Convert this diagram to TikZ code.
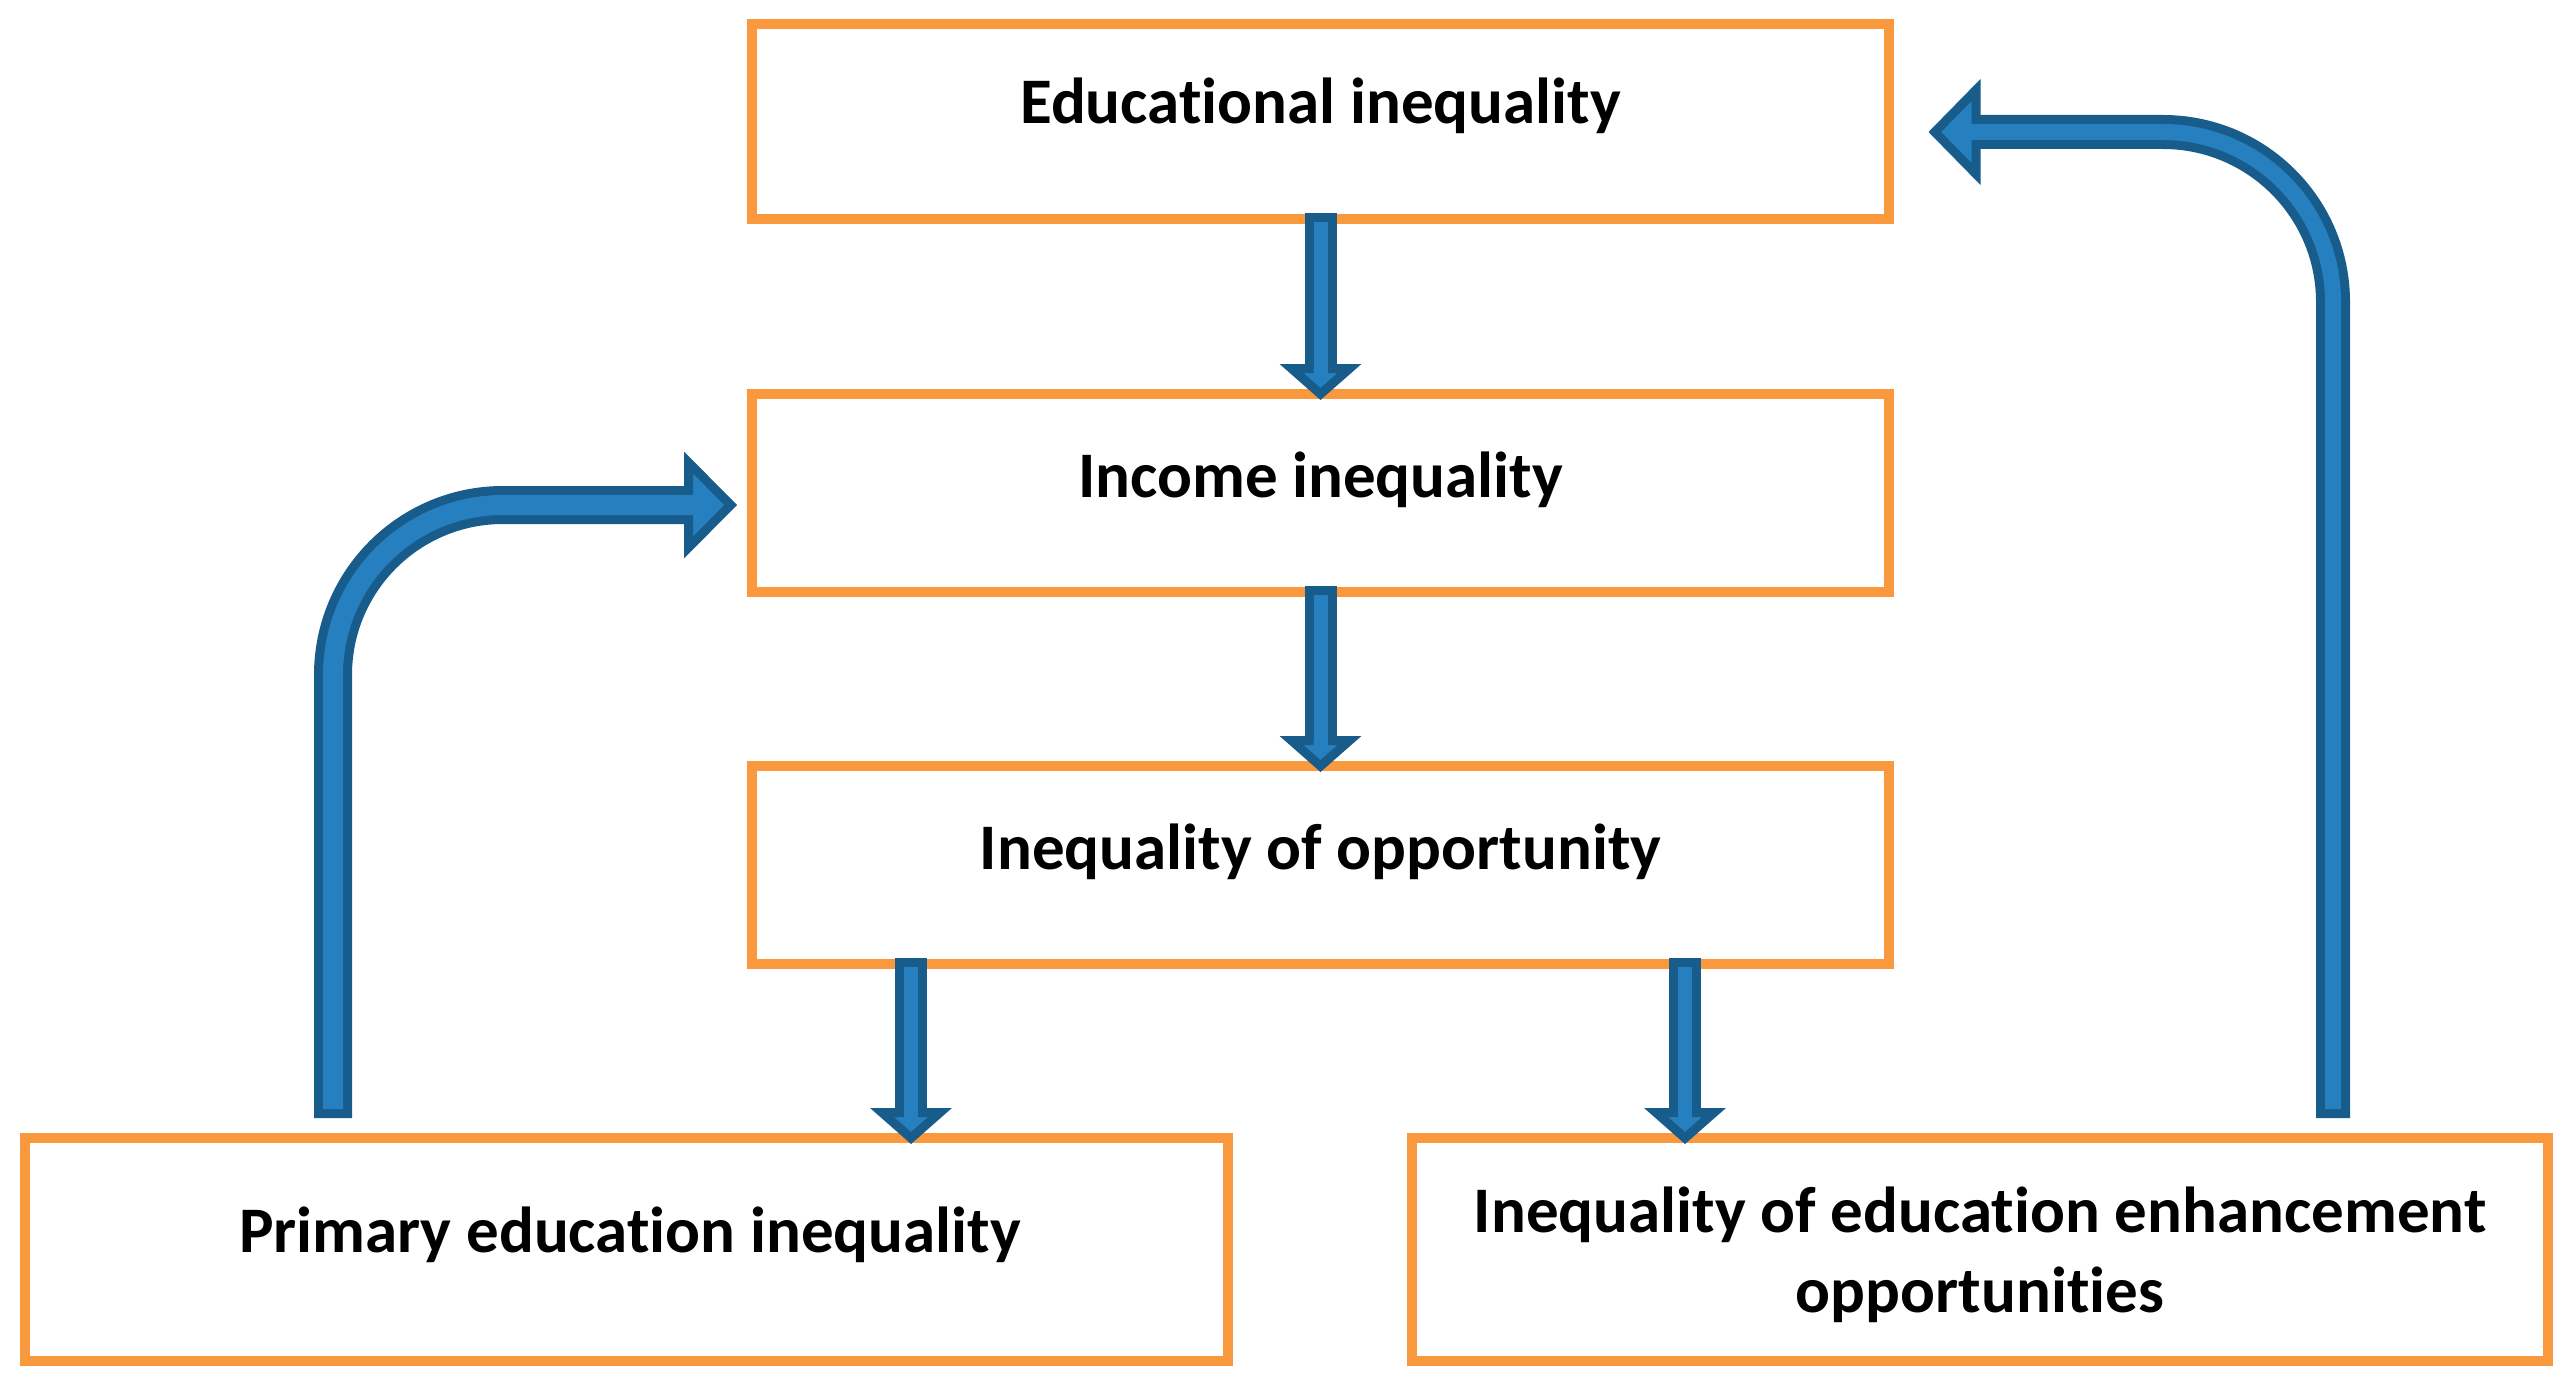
\documentclass[tikz,border=0pt]{standalone}
\usepackage{fontspec}
\setmainfont{Carlito}[Ligatures=NoCommon]
\usetikzlibrary{calc}
\definecolor{boxorange}{RGB}{250,152,62}
\definecolor{arrlight}{RGB}{38,128,192}
\definecolor{arrdark}{RGB}{24,92,140}
\newcommand\nolig{\kern0pt\relax}
\tikzset{
  box/.style={draw=boxorange, line width=9.5pt, fill=white, inner sep=0pt, outer sep=0pt},
  lbl/.style={font=\fontsize{65pt}{75pt}\selectfont\bfseries, anchor=base, inner sep=0pt, text=black},
  headsty/.style={fill=arrlight, draw=arrdark, line width=9pt, line join=miter, miter limit=10},
}
\newcommand\fatdown[2]{%
  \path ($(#1)+(0,-6)$) coordinate (fa) (#2) coordinate (fc) ($(#2)+(0,-25.5)$) coordinate (fb);
  \draw[arrdark, line width=32pt] (fa) -- (fb);
  \filldraw[headsty] ($(fb)+(-7,0)$) -- ($(fb)+(-29,0)$) -- (fc) -- ($(fb)+(29,0)$) -- ($(fb)+(7,0)$);
  \draw[arrlight, line width=14pt] ($(fa)+(0,9)$) -- ($(fb)+(0,3)$);
}
\begin{document}
\begin{tikzpicture}[x=1pt,y=-1pt]
\useasboundingbox[fill=white] (0,0) rectangle (2574,1391);
% boxes
\node[box, minimum width=1137pt, minimum height=195pt] (b1) at (1320.5,121.5) {};
\node[box, minimum width=1137pt, minimum height=198pt] (b2) at (1320.5,493) {};
\node[box, minimum width=1137pt, minimum height=198pt] (b3) at (1320.5,865) {};
\node[box, minimum width=1203pt, minimum height=223pt] (b4) at (626.5,1249.5) {};
\node[box, minimum width=1136pt, minimum height=223pt] (b5) at (1980,1249.5) {};
% labels
\node[lbl] (t1) at (1320.5,124) {Educat\nolig ional inequality};
\node[lbl] (t2) at (1320.5,497) {Income inequality};
\node[lbl] (t3) at (1320.5,869) {Inequality of opportunity};
\node[lbl] (t4) at (630,1252) {Primary educat\nolig ion inequality};
\node[lbl] (t5a) at (1980,1232) {Inequality of educat\nolig ion enhancement};
\node[lbl] (t5b) at (1980,1312) {opportunit\nolig ies};
% straight arrows
\coordinate (x3l) at (911,0);
\coordinate (x3r) at (1685,0);
\fatdown{b1.south}{b2.north}
\fatdown{b2.south}{b3.north}
\fatdown{b3.south -| x3l}{b4.north -| x3l}
\fatdown{b3.south -| x3r}{b5.north -| x3r}
% left curved arrow
\coordinate (x4) at (333,0);
\path ($(b4.north -| x4)+(0,-20)$) coordinate (la)
      ($(b2.west)+(-21.3,12)$) coordinate (lc)
      ($(lc)+(-42.2,0)$) coordinate (lb);
\draw[arrdark, line width=38pt, rounded corners=170pt] (la) |- (lb);
\filldraw[headsty] ($(lb)+(0,-10)$) -- ($(lb)+(0,-42.5)$) -- (lc) -- ($(lb)+(0,42.5)$) -- ($(lb)+(0,10)$);
\draw[arrlight, line width=20pt, rounded corners=170pt] ($(la)+(0,-9)$) |- ($(lb)+(3.5,0)$);
% right curved arrow
\coordinate (x5) at (2333,0);
\path ($(b5.north -| x5)+(0,-20)$) coordinate (ra)
      ($(b1.east)+(45.8,10.5)$) coordinate (rc)
      ($(rc)+(41.2,0)$) coordinate (rb);
\draw[arrdark, line width=34pt, rounded corners=170pt] (ra) |- (rb);
\filldraw[headsty] ($(rb)+(0,-8)$) -- ($(rb)+(0,-42)$) -- (rc) -- ($(rb)+(0,42)$) -- ($(rb)+(0,8)$);
\draw[arrlight, line width=16pt, rounded corners=170pt] ($(ra)+(0,-9)$) |- ($(rb)+(-3.5,0)$);
\end{tikzpicture}
\end{document}
